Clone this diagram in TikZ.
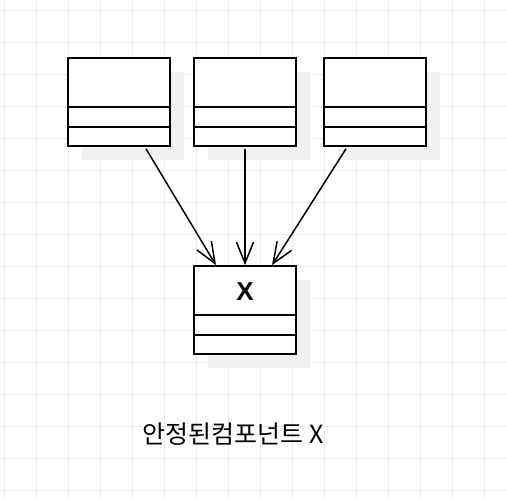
\documentclass[tikz,border=0pt]{standalone}
\usepackage{fontspec}
\setmainfont{Liberation Sans}
\newfontfamily\krfont{Noto Sans CJK KR}
\usetikzlibrary{arrows.meta,shadows}

\tikzset{
  gridline/.style={draw=black!8, line width=0.8pt},
  classbox/.style={draw, line width=1.6pt, fill=white, rectangle,
    minimum width=102pt, minimum height=88pt, inner sep=0pt,
    drop shadow={shadow xshift=14pt, shadow yshift=-14pt, fill=black!6, opacity=1}},
  divider/.style={line width=1.6pt},
  depend/.style={line width=1.5pt, -{Straight Barb[length=21pt, width=17pt, line width=1.5pt]}}
}

\begin{document}
\begin{tikzpicture}[x=1pt, y=-1pt]
		\useasboundingbox (0, 0) rectangle (506, 498);

		% background grid, 32px apart
		\foreach \gx in {4, 36, ..., 484}
			\draw [gridline] (\gx, 0) -- (\gx, 498);
		\foreach \gy in {10, 42, ..., 490}
			\draw [gridline] (0, \gy) -- (506, \gy);

		% three client classes on top, stable component below
		\node [classbox] (cA) at (119, 102) {};
		\node [classbox] (cB) at (245, 102) {};
		\node [classbox] (cC) at (375, 102) {};
		\node [classbox] (cX) at (245, 310) {};

		% compartments (name / attributes / operations)
		\foreach \cls in {cA, cB, cC, cX} {
			\draw [divider] ([yshift=-50pt]\cls.north west) -- ([yshift=-50pt]\cls.north east);
			\draw [divider] ([yshift=-70pt]\cls.north west) -- ([yshift=-70pt]\cls.north east);
		}
		\node [font=\bfseries\fontsize{26}{28}\selectfont] (xname) at ([yshift=-26pt]cX.north) {X};

		% dependencies pointing at X
		\draw [depend] ([xshift=27pt, yshift=-2pt]cA.south) -- ([xshift=-29pt]cX.north);
		\draw [depend] ([yshift=-2pt]cB.south) -- (cX.north);
		\draw [depend] ([xshift=-29pt, yshift=-2pt]cC.south) -- ([xshift=27pt]cX.north);

		\node [font=\krfont\fontsize{25}{28}\selectfont] (caption) at (233, 434) {안정된컴포넌트 X};
	\end{tikzpicture}
\end{document}
